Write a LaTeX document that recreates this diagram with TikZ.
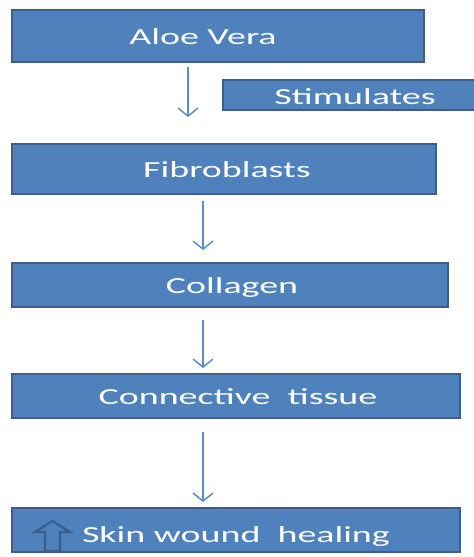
\documentclass[tikz,border=0pt]{standalone}
\usepackage{fontspec}
\setmainfont{Carlito}[FakeStretch=1.65]
\usetikzlibrary{arrows.meta}
\definecolor{boxfill}{HTML}{4F81BD}
\definecolor{boxedge}{HTML}{3B5F8C}
\definecolor{arrowc}{HTML}{5B8BC8}
\begin{document}
\begin{tikzpicture}[x=0.75pt,y=-0.75pt,
  box/.style={draw=boxedge,line width=1.6pt,fill=boxfill,inner sep=0pt,outer sep=0pt},
  lbl/.style={text=white,font=\fontsize{17.25}{20}\selectfont,anchor=base,inner sep=0pt},
  flow/.style={draw=arrowc,line width=1.1pt,-{Straight Barb[length=6pt,width=15pt]}},
  hollow/.style={draw=boxedge,line width=1.8pt,fill=boxfill,line join=miter}]
\useasboundingbox (0,0) rectangle (474,557);
\clip (0,0) rectangle (474,557);
\fill[white] (0,0) rectangle (474,557);
% boxes
\node[box,minimum width=412*0.75pt,minimum height=52*0.75pt] (aloe) at (218,36) {};
\node[box,minimum width=254*0.75pt,minimum height=30*0.75pt] (stim) at (350,95) {};
\node[box,minimum width=424*0.75pt,minimum height=50*0.75pt] (fibro) at (224,169) {};
\node[box,minimum width=436*0.75pt,minimum height=44*0.75pt] (coll) at (230,285) {};
\node[box,minimum width=448*0.75pt,minimum height=44*0.75pt] (conn) at (236,396) {};
\node[box,minimum width=448*0.75pt,minimum height=44*0.75pt] (skin) at (236,530) {};
% labels
\node[lbl] (taloe) at (203,44) {Aloe Vera};
\node[lbl] (tstim) at (355,104) {Stimulates};
\node[lbl] (tfibro) at (227,177) {Fibroblasts};
\node[lbl] (tcoll) at (232,293) {Collagen};
\node[lbl] (tconn) at (238,404) {Connective\ \ tissue};
\node[lbl] (tskin) at (236,542) {Skin wound\ \ healing};
% hollow up arrow in skin box
\draw[hollow] (52.5,521) -- (70,532) -- (60,532) -- (60,551) -- (45,551) -- (45,532) -- (35,532) -- cycle;
% connectors
\coordinate (a1s) at (188,67);  \coordinate (a1e) at (188,117);
\coordinate (a2s) at (203,201); \coordinate (a2e) at (203,250);
\coordinate (a3s) at (203,320); \coordinate (a3e) at (203,368);
\coordinate (a4s) at (203,432); \coordinate (a4e) at (203,502);
\draw[flow] (a1s) -- (a1e);
\draw[flow] (a2s) -- (a2e);
\draw[flow] (a3s) -- (a3e);
\draw[flow] (a4s) -- (a4e);
\end{tikzpicture}
\end{document}
